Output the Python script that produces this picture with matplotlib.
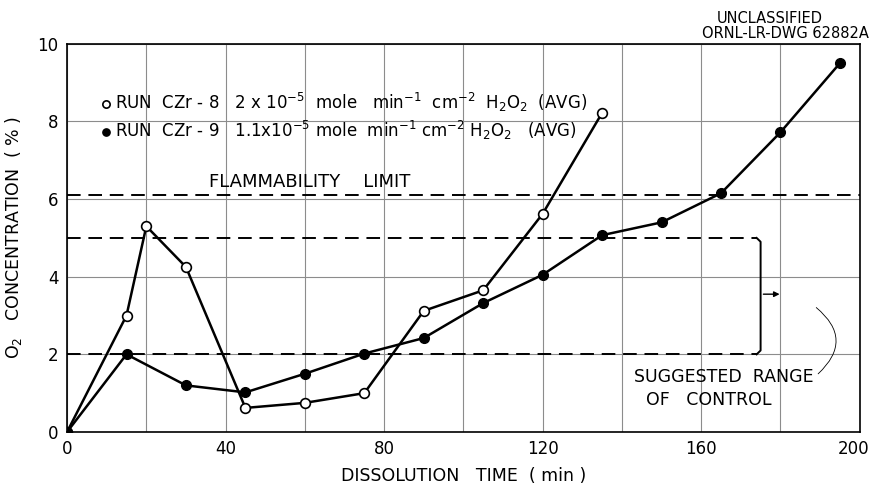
#Grafico da concentracao de O2 durante a dissolucao (corridas CZr-8 e CZr-9)

import matplotlib
matplotlib.use('Agg')
import matplotlib.pyplot as plt
import matplotlib.transforms as mtransforms
import numpy as np

# corrida CZr-8 (circulos abertos)
t_czr8 = [0, 15, 20, 30, 45, 60, 75, 90, 105, 120, 135]
o2_czr8 = [0, 3.0, 5.3, 4.25, 0.62, 0.75, 1.0, 3.12, 3.65, 5.62, 8.22]

# corrida CZr-9 (circulos cheios)
t_czr9 = [0, 15, 30, 45, 60, 75, 90, 105, 120, 135, 150, 165, 180, 195]
o2_czr9 = [0, 2.0, 1.2, 1.02, 1.5, 2.02, 2.42, 3.32, 4.05, 5.07, 5.4, 6.15, 7.72, 9.5]

flam_limit = 6.1
faixa_controle = [2.0, 5.0]

xticks = np.arange(0, 201, 20)
xticklabels = ['0', '', '40', '', '80', '', '120', '', '160', '', '200']
yticks = [0, 2, 4, 6, 8, 10]

plt.rcParams['font.family'] = 'DejaVu Sans'

fig = plt.figure(figsize=(8.71, 4.87), dpi=100)
ax = fig.add_axes([0.077, 0.113, 0.910, 0.797])

ax.set_xlim(0, 200)
ax.set_ylim(0, 10)
ax.set_xticks(xticks)
ax.set_xticklabels(xticklabels)
ax.set_yticks(yticks)
ax.tick_params(length=0, labelsize=12, pad=6)
ax.grid(True, color='0.55', lw=0.8)
for s in ax.spines.values():
    s.set_linewidth(1.2)

#o "200" fica encostado na borda da figura, desloca um pouco p/ esquerda
lab200 = ax.get_xticklabels()[-1]
lab200.set_transform(lab200.get_transform() +
                     mtransforms.ScaledTranslation(-6 / 100, 0, fig.dpi_scale_trans))

#linhas tracejadas: limite de inflamabilidade e faixa sugerida
ax.axhline(flam_limit, color='k', lw=1.4, ls=(0, (7, 4)), zorder=2)
ax.plot([0, 174], [faixa_controle[1]] * 2, color='k', lw=1.4, ls=(0, (7, 4)), zorder=2)
ax.plot([0, 174], [faixa_controle[0]] * 2, color='k', lw=1.4, ls=(0, (7, 4)), zorder=2)

#chave "}" da faixa de controle
xb = 175
ax.plot([xb - 1, xb, xb, xb - 1], [faixa_controle[1], faixa_controle[1] - 0.1,
        faixa_controle[0] + 0.1, faixa_controle[0]], color='k', lw=1.4)
ymid = np.mean(faixa_controle)
ax.annotate('', xy=(180.5, ymid + 0.05), xytext=(xb, ymid + 0.05),
            arrowprops=dict(arrowstyle='-|>', color='k', lw=1.0, mutation_scale=8))

ax.plot(t_czr8, o2_czr8, '-o', color='k', lw=1.8, markersize=7,
        markerfacecolor='white', markeredgewidth=1.2, zorder=4,
        label=r'RUN  CZr - 8   2 x 10$^{-5}$  mole   min$^{-1}$  cm$^{-2}$  H$_2$O$_2$  (AVG)')
ax.plot(t_czr9, o2_czr9, '-o', color='k', lw=1.8, markersize=7,
        markerfacecolor='k', zorder=4,
        label=r'RUN  CZr - 9   1.1x10$^{-5}$ mole  min$^{-1}$ cm$^{-2}$ H$_2$O$_2$   (AVG)')

leg = ax.legend(loc='upper left', bbox_to_anchor=(0.041, 0.895), frameon=False,
                handlelength=0, handletextpad=0.5, fontsize=12, labelspacing=0.3,
                borderaxespad=0, markerscale=0.75)
leg.set_zorder(5)

ax.text(61.3, flam_limit + 0.12, 'FLAMMABILITY    LIMIT', fontsize=13, ha='center', va='bottom')
ax.text(143, 1.42, 'SUGGESTED  RANGE', fontsize=12.5, ha='left', va='center')
ax.text(146, 0.82, 'OF   CONTROL', fontsize=12.5, ha='left', va='center')
ax.annotate('', xy=(188.5, 3.25), xytext=(189, 1.45),
            arrowprops=dict(arrowstyle='-', color='k', lw=0.6,
                            connectionstyle='arc3,rad=0.6'))

ax.set_xlabel('DISSOLUTION   TIME  ( min )', fontsize=12.5, labelpad=6)
ax.set_ylabel(r'O$_2$   CONCENTRATION  ( % )', fontsize=12.5, labelpad=10)

fig.text(0.884, 0.963, 'UNCLASSIFIED', fontsize=10.5, ha='center', va='center')
fig.text(0.998, 0.932, 'ORNL-LR-DWG 62882A', fontsize=10.5, ha='right', va='center')

plt.savefig('out.png', dpi=100)
plt.close()
